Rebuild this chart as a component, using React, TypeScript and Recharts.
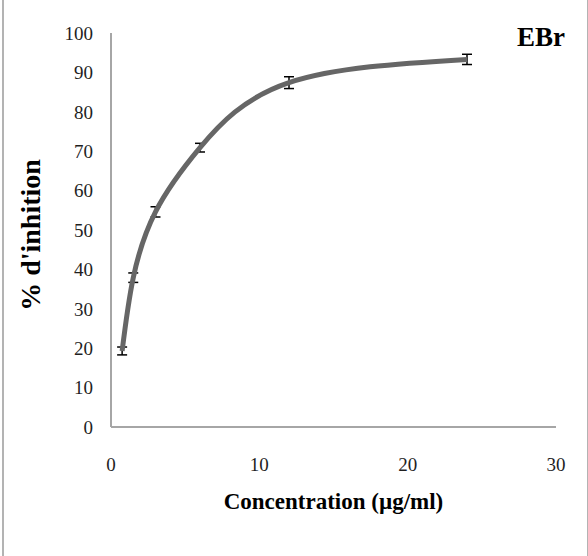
import React from 'react';
import { LineChart, Line, XAxis, YAxis, ErrorBar } from 'recharts';

// concentrations (µg/ml) and mean % inhibition with error
const concentrations = [0.75, 1.5, 3, 6, 12, 24];
const inhibition = [19.3, 37.9, 54.6, 70.9, 87.4, 93.3];
const errors = [1.0, 1.2, 1.3, 1.1, 1.5, 1.3];
const xTicks = [0, 10, 20, 30];
const yTicks = [0, 10, 20, 30, 40, 50, 60, 70, 80, 90, 100];

const data = concentrations.map((c, i) => ({ conc: c, value: inhibition[i], err: errors[i] }));

const serif = "'Liberation Serif', 'Times New Roman', serif";

// ticks drawn by hand so the serif font is really applied
const SerifTick = (props: any) => {
  const { x, y, payload, textAnchor, verticalAnchor } = props;
  const dy = verticalAnchor === 'start' ? '0.71em' : '0.355em';
  return (
    <text
      x={x}
      y={y}
      dy={dy}
      textAnchor={textAnchor}
      style={{ fontFamily: serif, fontSize: 19, fill: '#1f1f1f' }}
    >
      {payload.value}
    </text>
  );
};

const App: React.FC = () => {
  return (
    <div
      style={{
        position: 'absolute', left: 0, top: 0, width: 588, height: 556, background: '#fff',
        fontFamily: serif,
      }}
    >
      <div
        style={{
          position: 'absolute', left: 2, top: 0, width: 583, height: 556,
          borderLeft: '2px solid #b3b3b3', borderRight: '2px solid #b3b3b3',
        }}
      />
      <LineChart
        width={588}
        height={556}
        data={data}
        margin={{ top: 33, right: 32, left: 0, bottom: 0 }}
      >
        <XAxis
          dataKey="conc"
          type="number"
          domain={[0, 30]}
          ticks={xTicks}
          height={129}
          tickLine={false}
          tickSize={0}
          tickMargin={31}
          axisLine={{ stroke: '#a6a6a6', strokeWidth: 2 }}
          tick={<SerifTick />}
          label={{
            value: 'Concentration (µg/ml)',
            position: 'insideTop',
            offset: 66,
            style: { fontSize: 23, fontWeight: 'bold', fill: '#000', fontFamily: serif, textAnchor: 'middle' },
          }}
        />
        <YAxis
          type="number"
          domain={[0, 100]}
          ticks={yTicks}
          width={111}
          tickLine={false}
          tickSize={0}
          tickMargin={18}
          axisLine={{ stroke: '#a6a6a6', strokeWidth: 2 }}
          tick={<SerifTick />}
          label={{
            value: "% d'inhition",
            angle: -90,
            position: 'insideLeft',
            offset: 30,
            dy: 5,
            style: { fontSize: 28, fontWeight: 'bold', fill: '#000', fontFamily: serif, textAnchor: 'middle' },
          }}
        />
        <Line
          type="natural"
          dataKey="value"
          stroke="#666666"
          strokeWidth={5}
          dot={false}
          isAnimationActive={false}
        >
          <ErrorBar dataKey="err" direction="y" width={5} stroke="#000" strokeWidth={1.5} />
        </Line>
      </LineChart>
      <div
        style={{
          position: 'absolute', left: 517, top: 22, fontFamily: serif, fontWeight: 'bold',
          fontSize: 27, color: '#000',
        }}
      >
        EBr
      </div>
    </div>
  );
};

export default App;
